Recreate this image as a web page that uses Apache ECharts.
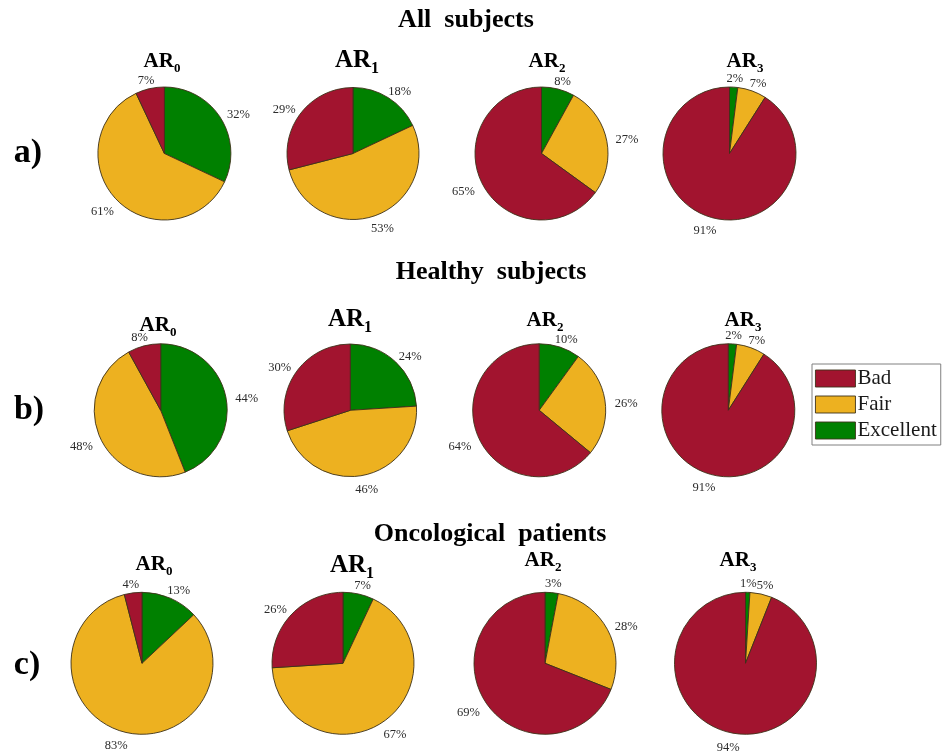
<!DOCTYPE html>
<html>
<head>
<meta charset="utf-8">
<script src="https://cdn.jsdelivr.net/npm/echarts@6/dist/echarts.min.js"></script>
<style>
  html, body { margin: 0; padding: 0; background: #ffffff; }
  #chart { width: 945px; height: 755px; }
</style>
</head>
<body>
<div id="chart"></div>
<script>
// Rating shares (%) per AR level 0..3, one array per group and rating
const groupTitles = ['All  subjects', 'Healthy  subjects', 'Oncological  patients'];
const rowTags = ['a)', 'b)', 'c)'];
const arLevels = ['0', '1', '2', '3'];
const ratings = ['Excellent', 'Fair', 'Bad'];          // drawn clockwise from 12 o'clock
const legendOrder = ['Bad', 'Fair', 'Excellent'];

const allBad        = [7, 29, 65, 91];
const allFair       = [61, 53, 27, 7];
const allExcellent  = [32, 18, 8, 2];

const healthyBad       = [8, 30, 64, 91];
const healthyFair      = [48, 46, 26, 7];
const healthyExcellent = [44, 24, 10, 2];

const oncoBad       = [4, 26, 69, 94];
const oncoFair      = [83, 67, 28, 5];
const oncoExcellent = [13, 7, 3, 1];

const groupData = [
  { Bad: allBad, Fair: allFair, Excellent: allExcellent },
  { Bad: healthyBad, Fair: healthyFair, Excellent: healthyExcellent },
  { Bad: oncoBad, Fair: oncoFair, Excellent: oncoExcellent }
];

const ratingColors = { Bad: '#A2142F', Fair: '#EDB120', Excellent: '#008000' };
const edgeColor = '#3d3119';
const serif = '"Liberation Serif", "Times New Roman", serif';

// Pie placement: [cx, cy, radius] per row and column
const pieLayout = [
  [[164.4, 153.5, 66.5], [353, 153.5, 66], [541.5, 153.5, 66.5], [729.5, 153.5, 66.5]],
  [[160.7, 410.3, 66.5], [350.3, 410.3, 66.3], [539.2, 410.3, 66.5], [728.3, 410.3, 66.5]],
  [[142, 663.3, 71], [343, 663.3, 71], [545, 663.3, 71], [745.5, 663.3, 71]]
];
// Panel heading positions [x, y, fontSize]
const headLayout = [
  [[162, 62, 21], [357, 61, 25], [547, 62, 21], [745, 62, 21]],
  [[158, 326, 21], [350, 320, 25], [545, 321, 21], [743, 321, 21]],
  [[154, 565, 21], [352, 566, 25], [543, 561, 21], [738, 561, 21]]
];
const groupTitlePos = [[466, 20], [491, 272], [490, 534]];
const rowTagPos = [[28, 153], [29, 410], [27, 665]];

const series = [];
const labelSeries = [];
const graphics = [];

// Push a value label outward from its anchor at 1.1 r so the text clears the rim
function outwardLabel(cx, cy) {
  return function (params) {
    const lr = params.labelRect;
    const lx = lr.x + lr.width / 2;
    const ly = lr.y + lr.height / 2;
    const vx = lx - cx, vy = ly - cy;
    const d = Math.sqrt(vx * vx + vy * vy) || 1;
    return {
      dx: (vx / d) * (lr.width / 2),
      dy: (vy / d) * 1.5 + 3
    };
  };
}

groupData.forEach(function (grp, g) {
  arLevels.forEach(function (lvl, k) {
    const [cx, cy, r] = pieLayout[g][k];
    const data = ratings.map(function (name) {
      return { name: name, value: grp[name][k], itemStyle: { color: ratingColors[name] } };
    });
    series.push({
      type: 'pie',
      name: 'AR' + lvl + ' ' + g,
      center: [cx, cy],
      radius: r,
      startAngle: 90,
      clockwise: true,
      silent: true,
      animation: false,
      emphasis: { disabled: true },
      label: { show: false },
      labelLine: { show: false },
      itemStyle: { borderColor: edgeColor, borderWidth: 0.9 },
      data: data
    });
    // invisible ring whose mid-radius (1.1 r) anchors the value labels
    labelSeries.push({
      type: 'pie',
      name: 'AR' + lvl + ' labels ' + g,
      center: [cx, cy],
      radius: [r, r * 1.2],
      startAngle: 90,
      clockwise: true,
      silent: true,
      animation: false,
      emphasis: { disabled: true },
      itemStyle: { color: 'rgba(0,0,0,0)', borderWidth: 0 },
      label: {
        show: true,
        position: 'inside',
        rotate: 0,
        formatter: '{c}%',
        fontFamily: serif,
        fontSize: 12.5,
        color: '#2b2b2b'
      },
      labelLine: { show: false },
      labelLayout: outwardLabel(cx, cy),
      data: ratings.map(function (name) {
        return { name: name, value: grp[name][k] };
      })
    });

    const [hx, hy, fs] = headLayout[g][k];
    graphics.push({
      type: 'text',
      x: hx,
      y: hy,
      silent: true,
      style: {
        text: '{m|AR}{s|' + lvl + '}',
        align: 'center',
        verticalAlign: 'middle',
        rich: {
          m: { fontFamily: serif, fontWeight: 'bold', fontSize: fs, lineHeight: fs + 6, fill: '#000' },
          s: { fontFamily: serif, fontWeight: 'bold', fontSize: Math.round(fs * 0.62), lineHeight: Math.round(fs * 0.62) + 1, verticalAlign: 'bottom', fill: '#000' }
        }
      }
    });
  });

  graphics.push({
    type: 'text',
    x: groupTitlePos[g][0],
    y: groupTitlePos[g][1],
    silent: true,
    style: {
      text: groupTitles[g],
      align: 'center',
      verticalAlign: 'middle',
      font: 'bold 26px ' + serif,
      fill: '#000'
    }
  });
  graphics.push({
    type: 'text',
    x: rowTagPos[g][0],
    y: rowTagPos[g][1],
    silent: true,
    style: {
      text: rowTags[g],
      align: 'center',
      verticalAlign: 'middle',
      font: 'bold 34px ' + serif,
      fill: '#000'
    }
  });
});

const chart = echarts.init(document.getElementById('chart'), null, { renderer: 'canvas' });
chart.setOption({
  backgroundColor: '#ffffff',
  animation: false,
  legend: {
    data: legendOrder,
    orient: 'vertical',
    left: 812,
    top: 364,
    icon: 'rect',
    itemWidth: 40,
    itemHeight: 17,
    itemGap: 5,
    padding: [4, 4, 4, 3],
    borderColor: '#808080',
    borderWidth: 1,
    backgroundColor: '#ffffff',
    selectedMode: false,
    itemStyle: { borderColor: edgeColor, borderWidth: 0.9 },
    textStyle: { fontFamily: serif, fontSize: 21, color: '#1a1a1a', padding: [0, 0, 0, -3] }
  },
  series: series.concat(labelSeries),
  graphic: graphics
});
</script>
</body>
</html>
